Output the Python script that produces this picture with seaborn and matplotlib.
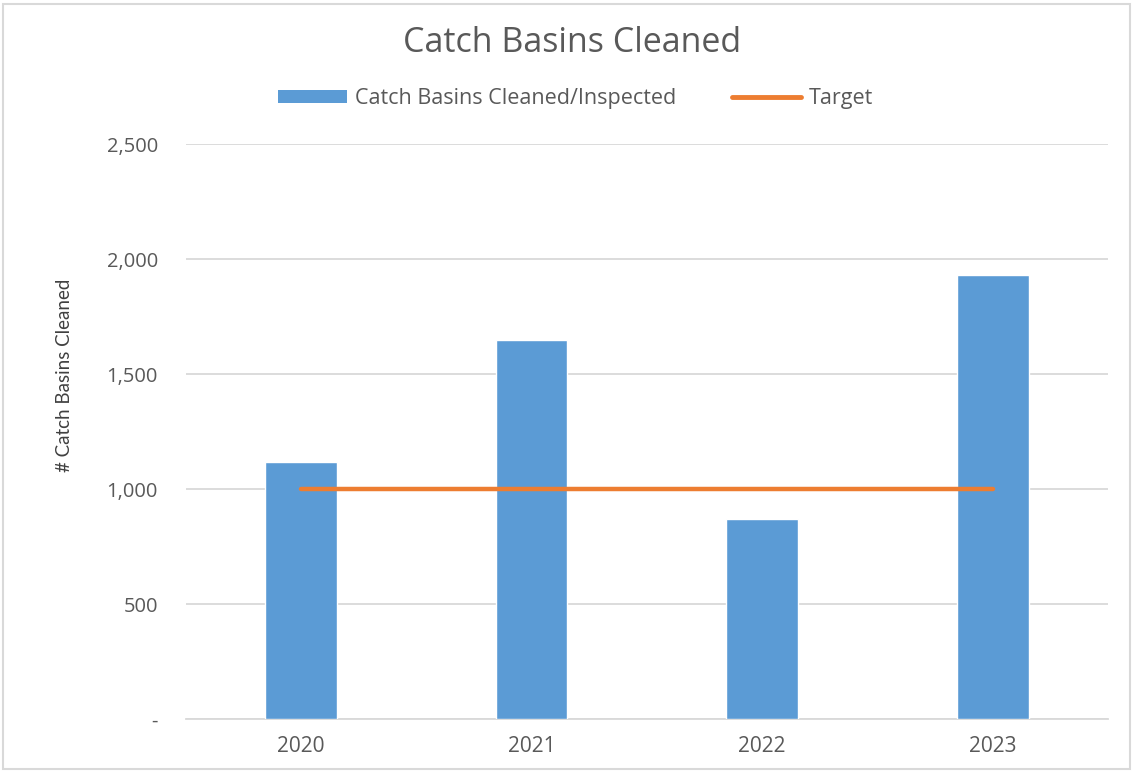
import matplotlib
matplotlib.use("Agg")
import matplotlib.pyplot as plt
import seaborn as sns
import pandas as pd
from matplotlib.ticker import FuncFormatter
from matplotlib.patches import Rectangle, Patch
from matplotlib.lines import Line2D

years = ["2020", "2021", "2022", "2023"]
cleaned = [1119, 1648, 872, 1929]
target = [1000, 1000, 1000, 1000]
yticks = [0, 500, 1000, 1500, 2000, 2500]

sns.set_theme(style="white")
plt.rcParams["font.family"] = ["Open Sans", "DejaVu Sans"]

df = pd.DataFrame({"Year": years, "Cleaned": cleaned, "Target": target})

fig = plt.figure(figsize=(11.33, 7.71), dpi=100)
ax = fig.add_axes([0.164, 0.0674, 0.814, 0.7456])

sns.barplot(data=df, x="Year", y="Cleaned", color="#5B9BD5", saturation=1,
            width=0.31, ax=ax, zorder=3)
sns.lineplot(data=df, x="Year", y="Target", color="#ED7D31", linewidth=3.2,
             ax=ax, zorder=4, solid_capstyle="round")

ax.set_ylim(0, 2500)
ax.set_xlim(-0.5, 3.5)
ax.set_yticks(yticks)
ax.yaxis.set_major_formatter(FuncFormatter(lambda v, p: "-" if v == 0 else f"{int(v):,}"))
ax.grid(axis="y", color="#D9D9D9", linewidth=1.3, zorder=0)
ax.set_axisbelow(True)
for s in ["top", "right", "left"]:
    ax.spines[s].set_visible(False)
ax.spines["bottom"].set_color("#D9D9D9")
ax.spines["bottom"].set_linewidth(1.3)
ax.tick_params(axis="both", length=0, colors="#595959")
ax.tick_params(axis="y", pad=20, labelsize=14.5)
ax.tick_params(axis="x", pad=12, labelsize=15)
ax.set_xlabel("")
ax.set_ylabel("# Catch Basins Cleaned", fontsize=13.5, color="#404040",
              family=["Lato", "DejaVu Sans"])
ax.yaxis.set_label_coords(-0.122, 0.598)

fig.text(0.505, 0.944, "Catch Basins Cleaned", ha="center", va="center",
         fontsize=24.5, color="#595959")

handles = [Patch(facecolor="#5B9BD5", edgecolor="none"),
           Line2D([0], [0], color="#ED7D31", linewidth=3.5, solid_capstyle="round")]
fig.legend(handles, ["Catch Basins Cleaned/Inspected", "Target"],
           loc="center", bbox_to_anchor=(0.508, 0.872), ncol=2, frameon=False,
           fontsize=15.5, labelcolor="#595959", handlelength=3.2, handleheight=0.6,
           handletextpad=0.35, columnspacing=2.6)

fig.patches.append(Rectangle((0.003, 0.003), 0.994, 0.992, transform=fig.transFigure,
                             fill=False, edgecolor="#D9D9D9", linewidth=1.5))

fig.savefig("out.png", dpi=100)
